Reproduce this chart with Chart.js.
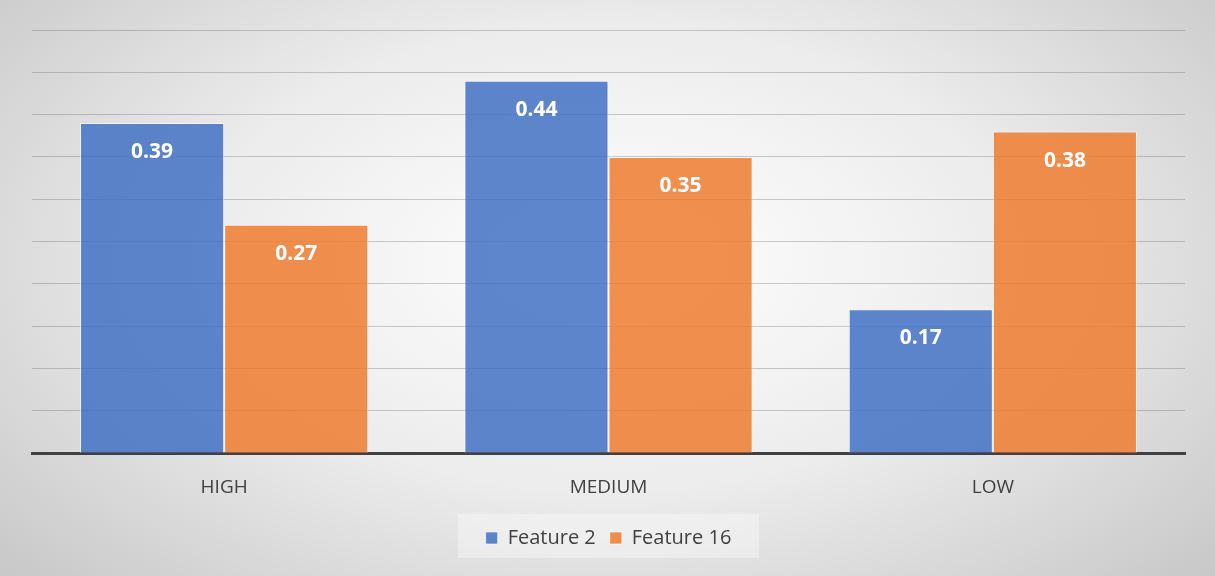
<!DOCTYPE html>
<html>
<head>
<meta charset="utf-8">
<script src="https://cdn.jsdelivr.net/npm/chart.js"></script>
<style>
  html, body { margin: 0; padding: 0; }
  body {
    width: 1215px; height: 576px; overflow: hidden;
    background: radial-gradient(ellipse 75% 90% at 50% 45%, #ffffff 0%, #ececec 45%, #d4d4d4 75%, #c0c0c0 100%);
  }
  #wrap { width: 1215px; height: 576px; }
</style>
</head>
<body>
<div id="wrap"><canvas id="chart" width="1215" height="576"></canvas></div>
<script>
// 数据
const categories = ['HIGH', 'MEDIUM', 'LOW'];
const feature2 = [0.39, 0.44, 0.17];
const feature16 = [0.27, 0.35, 0.38];
const seriesNames = ['Feature 2', 'Feature 16'];

// 柱内数值标签
const valueLabels = {
  id: 'valueLabels',
  afterDatasetsDraw(chart) {
    const ctx = chart.ctx;
    ctx.save();
    ctx.font = 'bold 21px "Open Sans", sans-serif';
    ctx.fillStyle = '#ffffff';
    ctx.textAlign = 'center';
    ctx.textBaseline = 'middle';
    chart.data.datasets.forEach((ds, i) => {
      chart.getDatasetMeta(i).data.forEach((bar, j) => {
        ctx.fillText(ds.data[j].toFixed(2), bar.x, bar.y + 29);
      });
    });
    ctx.restore();
  }
};

// 图例背景
const legendBg = {
  id: 'legendBg',
  beforeDraw(chart) {
    const lg = chart.legend;
    if (!lg) return;
    const ctx = chart.ctx;
    const w = 301, h = 44;
    const cx = (lg.left + lg.right) / 2;
    const cy = lg.top + lg.height / 2;
    ctx.save();
    ctx.fillStyle = 'rgba(255,255,255,0.35)';
    ctx.fillRect(cx - w / 2, cy - h / 2, w, h);
    ctx.restore();
  }
};

new Chart(document.getElementById('chart'), {
  type: 'bar',
  data: {
    labels: categories,
    datasets: [
      {
        label: seriesNames[0],
        data: feature2,
        backgroundColor: 'rgba(68,114,196,0.86)',
        borderColor: 'rgba(255,255,255,0.6)',
        borderWidth: 1
      },
      {
        label: seriesNames[1],
        data: feature16,
        backgroundColor: 'rgba(237,125,49,0.86)',
        borderColor: 'rgba(255,255,255,0.6)',
        borderWidth: 1
      }
    ]
  },
  options: {
    responsive: false,
    animation: false,
    categoryPercentage: 0.75,
    barPercentage: 1,
    layout: { padding: { left: 32, right: 30, top: 30, bottom: 18 } },
    scales: {
      x: {
        grid: { display: false },
        border: { color: '#404040', width: 3 },
        ticks: { color: '#404040', font: { size: 19, family: '"Open Sans", sans-serif' }, padding: 15 }
      },
      y: {
        min: 0,
        max: 0.5,
        ticks: { display: false, stepSize: 0.05 },
        border: { display: false },
        grid: { color: 'rgba(90,90,90,0.3)', drawTicks: false, lineWidth: 1 }
      }
    },
    plugins: {
      tooltip: { enabled: false },
      legend: {
        position: 'bottom',
        labels: {
          color: '#404040',
          font: { size: 20, family: '"Open Sans", sans-serif' },
          boxWidth: 12,
          boxHeight: 12,
          padding: 14
        }
      }
    }
  },
  plugins: [legendBg, valueLabels]
});
</script>
</body>
</html>
